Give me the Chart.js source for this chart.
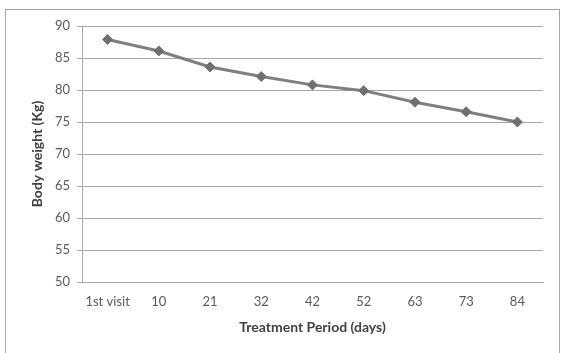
<!DOCTYPE html>
<html lang="en">
<head>
  <meta charset="UTF-8">
  <title>Body weight over treatment period</title>
  <script src="https://cdn.jsdelivr.net/npm/chart.js"></script>
  <style>
    body {
      margin: 0;
      padding: 0;
      background: #fff;
    }

    #wrap {
      position: relative;
      width: 565px;
      height: 353px;
    }

    #frame {
      position: absolute;
      left: 5px;
      top: 9px;
      width: 555px;
      height: 360px;
      border: 1px solid #a6a6a6;
      box-sizing: border-box;
    }

    canvas {
      position: absolute;
      left: 0;
      top: 0;
    }
  </style>
</head>
<body>
  <div id="wrap">
    <div id="frame"></div>
    <canvas id="weightChart" width="565" height="353"></canvas>
  </div>

  <script>
    const visits = ['1st visit', '10', '21', '32', '42', '52', '63', '73', '84'];
    const bodyWeight = [87.9, 86.1, 83.6, 82.1, 80.8, 79.9, 78.1, 76.6, 75.0];
    const yTicks = [50, 55, 60, 65, 70, 75, 80, 85, 90];

    const font = "Lato, 'Liberation Sans', sans-serif";

    new Chart(document.getElementById('weightChart'), {
      type: 'line',
      data: {
        labels: visits,
        datasets: [{
          label: 'Body weight',
          data: bodyWeight,
          borderColor: '#7f7f7f',
          borderWidth: 3,
          pointStyle: 'rectRot',
          pointRadius: 5,
          pointBackgroundColor: '#6f6f6f',
          pointBorderColor: '#6f6f6f',
          pointBorderWidth: 1,
          tension: 0
        }]
      },
      options: {
        responsive: false,
        animation: false,
        layout: { padding: { left: 0, top: 26, right: 22, bottom: 0 } },
        plugins: {
          legend: { display: false },
          tooltip: { enabled: false }
        },
        scales: {
          x: {
            offset: true,
            afterFit: s => { s.height = 71; },
            grid: { display: false, drawTicks: false },
            border: { color: '#a6a6a6', width: 1 },
            ticks: {
              color: '#595959',
              font: { family: font, size: 13 },
              padding: 12,
              maxRotation: 0,
              autoSkip: false
            },
            title: {
              display: true,
              text: 'Treatment Period (days)',
              color: '#404040',
              font: { family: font, size: 14, weight: 'bold' },
              padding: { top: 0, bottom: 17 }
            }
          },
          y: {
            min: yTicks[0],
            max: yTicks[yTicks.length - 1],
            afterFit: s => { s.width = 82; },
            afterBuildTicks: s => { s.ticks = yTicks.map(v => ({ value: v })); },
            grid: { color: '#a6a6a6', lineWidth: 1, tickLength: 5 },
            border: { color: '#a6a6a6', width: 1 },
            ticks: {
              color: '#595959',
              font: { family: font, size: 13 },
              padding: 7
            },
            title: {
              display: true,
              text: 'Body weight (Kg)',
              color: '#404040',
              font: { family: font, size: 14, weight: 'bold' },
              padding: { top: 29, bottom: 0 }
            }
          }
        }
      }
    });
  </script>
</body>
</html>
